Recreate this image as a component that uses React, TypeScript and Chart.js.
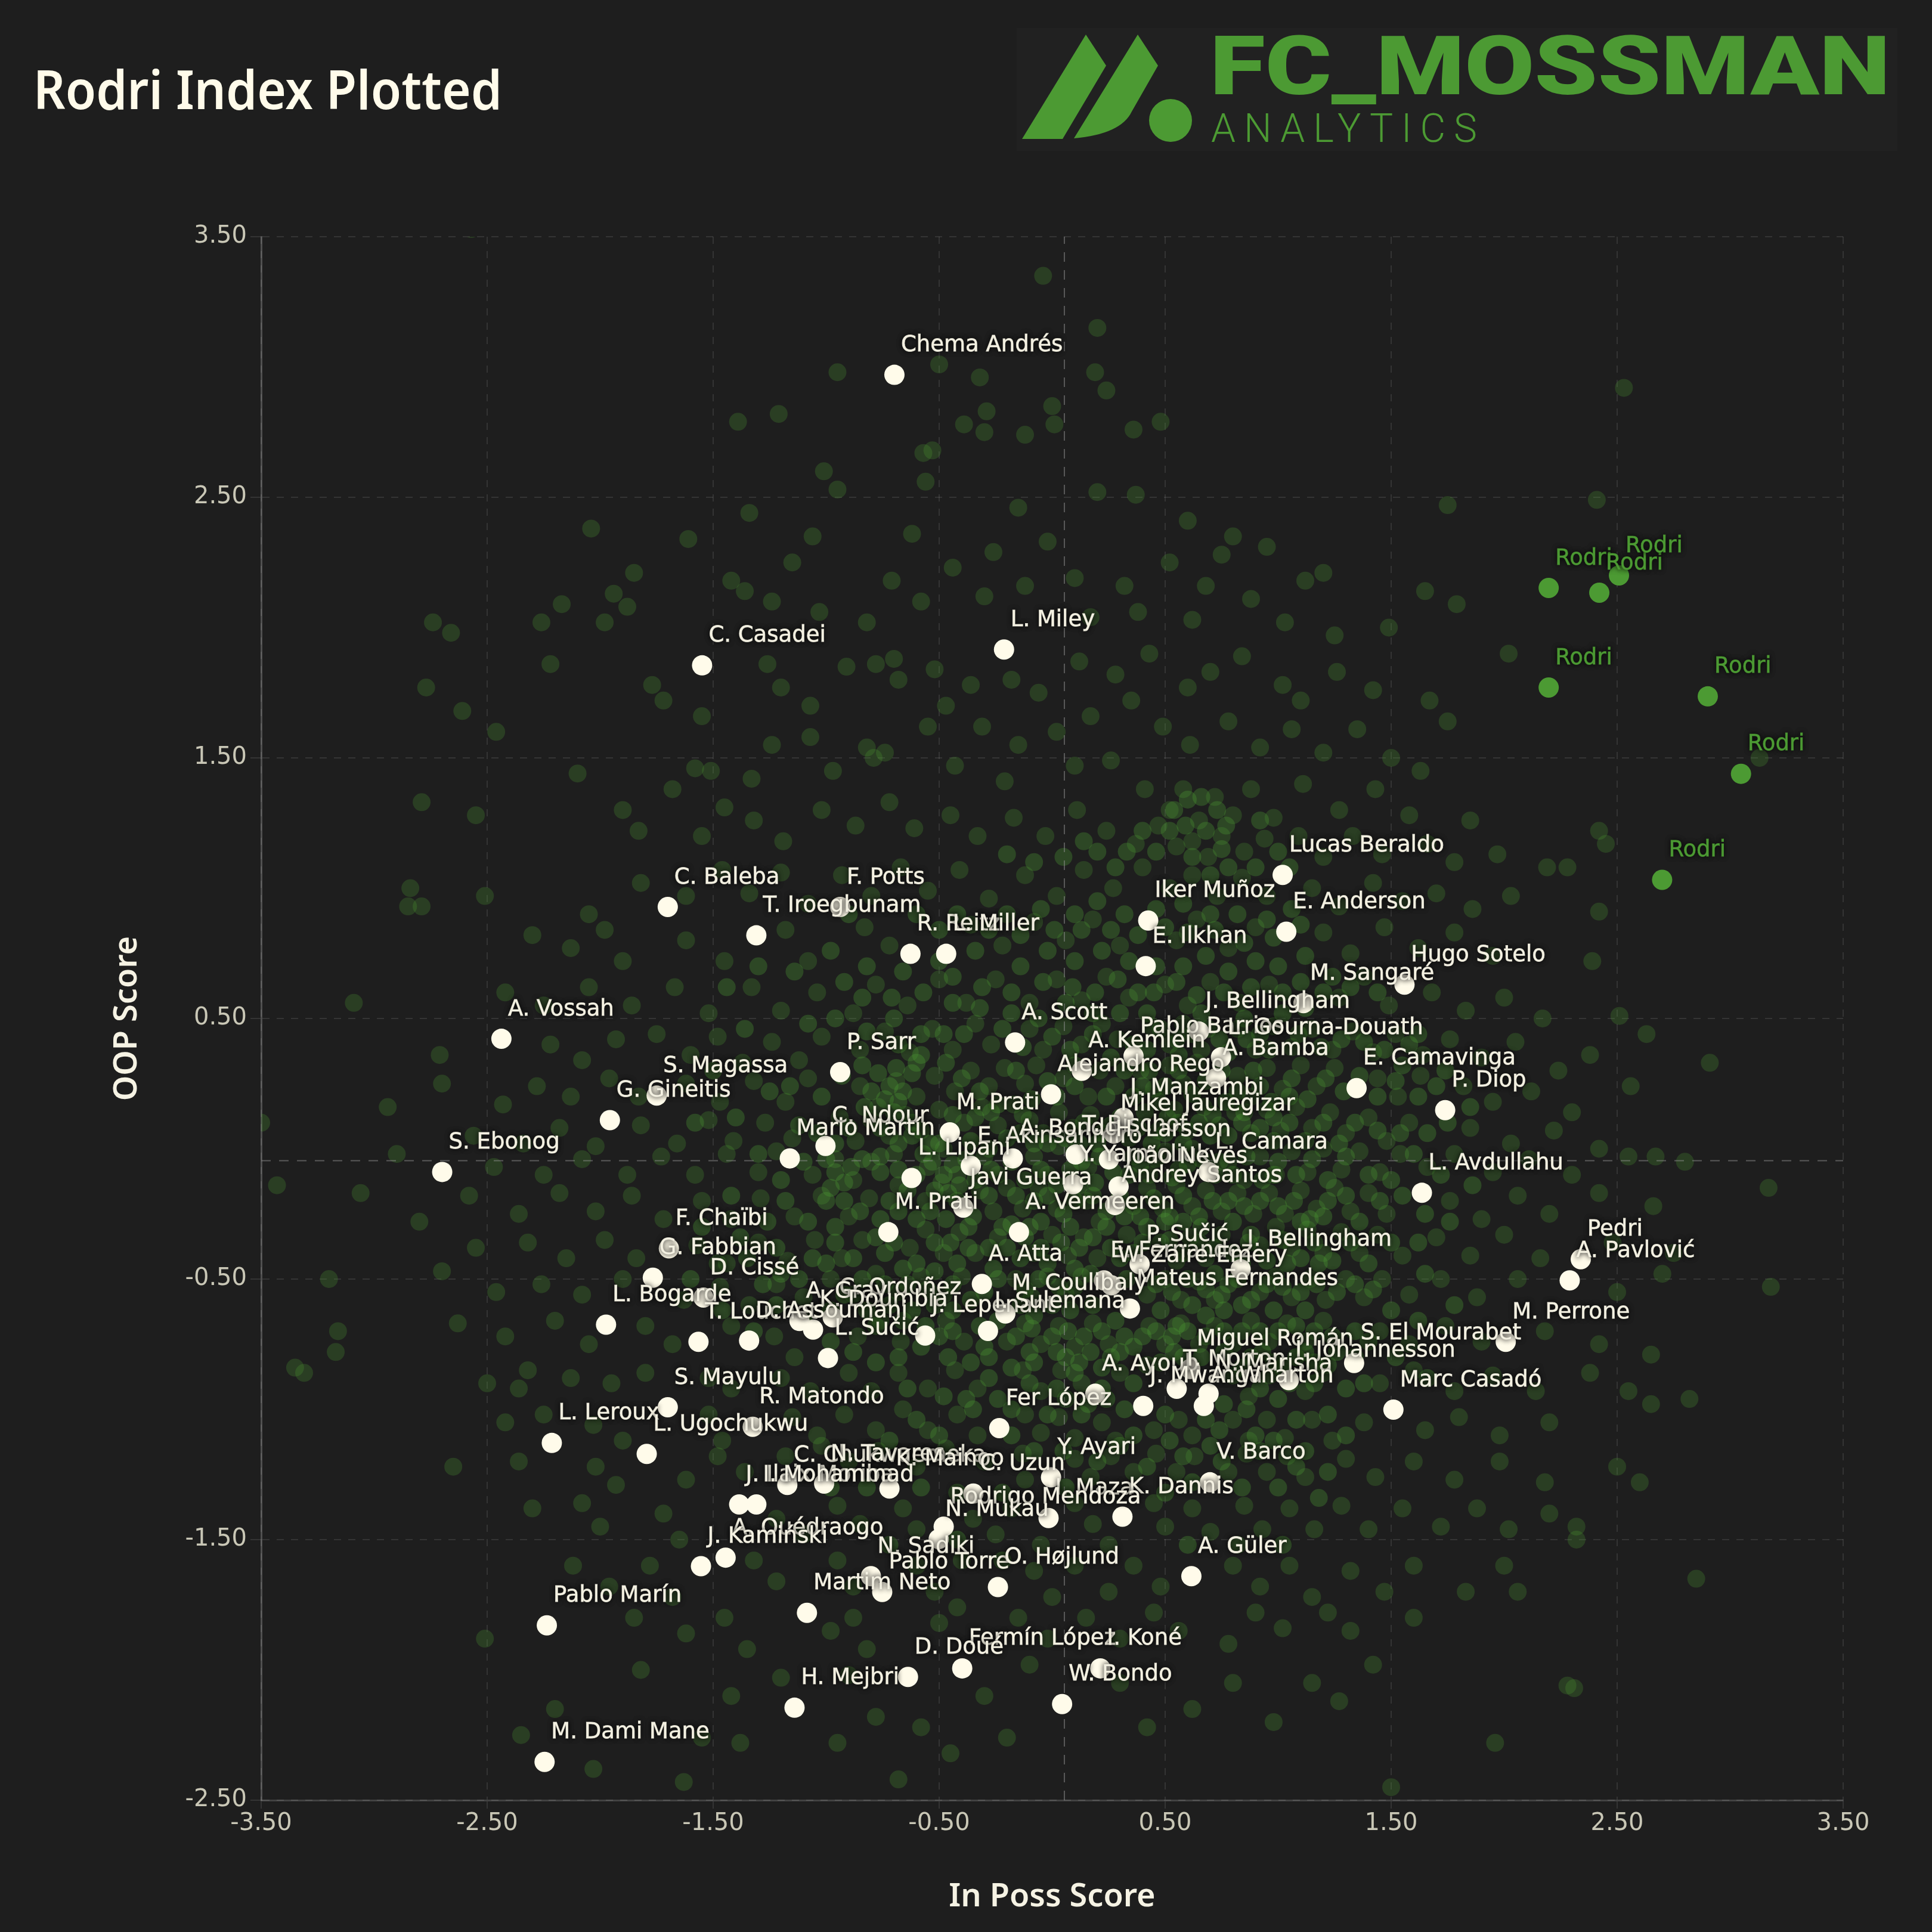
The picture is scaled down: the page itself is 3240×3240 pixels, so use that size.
import React, { useEffect, useRef } from "react";
import { Chart, registerables } from "chart.js";

Chart.register(...registerables);

const playerNames = ["Chema Andrés","C. Casadei","L. Miley","Lucas Beraldo","C. Baleba","F. Potts","T. Iroegbunam","R. Reitz","L. Miller","Iker Muñoz","E. Anderson","E. Ilkhan","Hugo Sotelo","M. Sangaré","A. Vossah","J. Bellingham","A. Scott","Pablo Barrios","L. Gourna-Douath","A. Bamba","A. Kemlein","P. Sarr","S. Magassa","G. Gineitis","E. Camavinga","P. Diop","Alejandro Rego","J. Manzambi","Mikel Jauregizar","M. Prati","C. Ndour","Mario Martín","E. Akinsanmiro","L. Lipani","A. Bondo","T. Bischof","H. Larsson","L. Camara","Y. Yarmoliuk","João Neves","Javi Guerra","Andrey Santos","A. Vermeeren","M. Prati","L. Avdullahu","S. Ebonog","F. Chaïbi","G. Fabbian","P. Sučić","J. Bellingham","E. Fernandez","W. Zaïre-Emery","Pedri","A. Pavlović","A. Atta","Mateus Fernandes","M. Coulibaly","C. Ordoñez","A. Gray","K. Doumbia","L. Bogarde","D. Cissé","T. Louchet","D. Assoumani","L. Sučić","J. Lepenant","I. Sulemana","M. Perrone","S. El Mourabet","Miguel Román","A. Ayoub","T. Morton","Í. Jóhannesson","N. Marisha","J. Mwanga","A. Wharton","Marc Casadó","S. Mayulu","R. Matondo","L. Leroux","L. Ugochukwu","Fer López","Y. Ayari","V. Barco","C. Chukwuemeka","N. Tavares","K. Mainoo","C. Uzun","J. Ilaix Moriba","I. Mohammad","I. Maza","K. Dannis","Rodrigo Mendoza","N. Mukau","A. Ouédraogo","J. Kamiński","N. Sadiki","Pablo Torre","O. Højlund","A. Güler","Pablo Marín","Martim Neto","Fermín López","I. Koné","D. Doué","W. Bondo","H. Mejbri","M. Dami Mane"];
const playerX = [-0.698,-1.549,-0.213,1.02,-1.701,-0.938,-1.309,-0.627,-0.469,0.425,1.036,0.414,1.559,1.112,-2.437,0.649,-0.164,0.36,0.747,0.725,0.131,-0.938,-1.75,-1.957,1.347,1.739,-0.005,0.316,0.273,-0.453,-1.003,-1.161,-0.36,-0.622,-0.174,0.104,0.251,0.692,0.093,0.294,-0.393,0.278,-0.147,-0.725,1.636,-2.699,-1.696,-1.767,0.387,0.834,0.229,0.262,2.339,2.29,-0.311,0.344,-0.207,-0.971,-1.118,-1.058,-1.974,-1.543,-1.565,-1.341,-0.992,-0.562,-0.284,2.007,1.336,0.611,0.191,0.551,1.047,0.692,0.403,0.671,1.51,-1.701,-1.325,-2.214,-1.794,-0.234,-0.005,0.698,-1.172,-1.009,-0.72,-0.349,-1.385,-1.309,-0.016,0.311,-0.48,-0.502,-1.445,-1.554,-0.802,-0.752,-0.24,0.616,-2.236,-1.085,-0.398,0.213,-0.638,0.044,-1.14,-2.246];
const playerY = [2.97,1.855,1.916,1.051,0.928,0.928,0.819,0.748,0.748,0.876,0.833,0.701,0.63,0.559,0.422,0.45,0.408,0.356,0.351,0.271,0.299,0.294,0.204,0.11,0.233,0.148,0.209,0.119,0.058,0.063,0.011,-0.037,-0.065,-0.112,-0.037,-0.022,-0.041,-0.089,-0.136,-0.145,-0.226,-0.216,-0.32,-0.32,-0.169,-0.089,-0.382,-0.495,-0.443,-0.462,-0.505,-0.524,-0.424,-0.505,-0.519,-0.613,-0.632,-0.647,-0.661,-0.694,-0.675,-0.571,-0.741,-0.736,-0.803,-0.717,-0.699,-0.741,-0.822,-0.845,-0.94,-0.921,-0.888,-0.94,-0.987,-0.987,-1.001,-0.992,-1.067,-1.129,-1.171,-1.072,-1.261,-1.28,-1.29,-1.285,-1.304,-1.323,-1.365,-1.365,-1.417,-1.412,-1.45,-1.498,-1.569,-1.602,-1.64,-1.701,-1.682,-1.64,-1.829,-1.781,-1.994,-1.994,-2.027,-2.131,-2.145,-2.353];

const rodriName = "Rodri";
const rodriX = [2.197,2.421,2.508,2.197,2.901,3.048,2.699];
const rodriY = [2.152,2.134,2.2,1.77,1.736,1.439,1.032];

const medianX = 0.054;
const medianY = -0.046;
const tickValuesX = [-3.5,-2.5,-1.5,-0.5,0.5,1.5,2.5,3.5];
const tickValuesY = [-2.5,-1.5,-0.5,0.5,1.5,2.5,3.5];
const chartTitle = "Rodri Index Plotted";
const xTitle = "In Poss Score";
const yTitle = "OOP Score";

// Every other player in the pool.
const poolTop: number[][] = [
[-2.57,3.53],[-0.04,3.35],[0.2,3.15],[-0.95,2.98],[-0.5,3.01],[-0.32,2.96],[0.19,2.98],[0.24,2.91],[2.53,2.92],[-0.29,2.83],[-1.21,2.82],[-1.39,2.79],[0,2.85],[0.01,2.78],[-0.39,2.78],[-0.3,2.75],[-0.12,2.74],[0.36,2.76],[0.48,2.79],[-0.53,2.68],[-0.57,2.67],[-1.01,2.6],[-0.95,2.53],[-0.56,2.56],[2.41,2.49],[1.75,2.47],[-1.34,2.44],[-2.04,2.38],[-1.61,2.34],[-1.06,2.35],[0.37,2.51],[0.2,2.52],[-0.15,2.46],[-0.62,2.36],[0.8,2.35],[0.6,2.41],[0.95,2.31],[1.2,2.21],[1.12,2.18],[0.75,2.28],[0.52,2.25],[-0.02,2.33],[-0.26,2.29],[-0.44,2.23],[-0.71,2.18],[-1.15,2.25],[-1.85,2.21],[-1.94,2.13],[-1.88,2.08],[-2.17,2.09],[-2.26,2.02],[-1.98,2.02],[-1.42,2.18],[-1.36,2.14],[-1.24,2.1],[-1.03,2.06],[-0.82,2.02],[-0.58,2.1],[-0.3,2.12],[-0.12,2.16],[0.1,2.19],[0.32,2.16],[0.68,2.16],[0.88,2.11],[1.03,2.02],[1.65,2.14],[1.79,2.09],[1.49,2],[1.25,1.97],[0.62,2.03],[0.38,2.06],[0.17,2.04],
[-2.74,2.02],[-2.66,1.98],[-2.77,1.77],[-2.61,1.68],[-2.46,1.6],[-2.22,1.86],[-1.77,1.78],[-1.72,1.72],[-1.55,1.66],[-1.58,1.46],[-1.51,1.45],[-1.26,1.86],[-1.2,1.77],[-1.07,1.7],[-0.91,1.85],[-0.78,1.86],[-0.68,1.8],[-0.7,1.88],[-0.52,1.84],[-0.47,1.7],[-0.36,1.78],[-0.18,1.8],[-0.06,1.75],[0.12,1.87],[0.28,1.82],[0.43,1.9],[0.6,1.77],[0.7,1.83],[0.84,1.89],[1.02,1.78],[1.1,1.72],[1.26,1.83],[1.42,1.76],[1.67,1.72],[1.75,1.64],[2.02,1.9],[1.85,1.26],[-0.82,1.54],[-0.79,1.5],[-0.74,1.52],[-0.97,1.45],[-1.07,1.58],[-1.24,1.55],[-2.1,1.44],[-2.55,1.28],[-2.79,1.33],[-1.9,1.3],[-1.68,1.38],[-1.45,1.31],[-1.33,1.42],[-0.55,1.62],[-0.31,1.62],[-0.15,1.55],[0.02,1.6],[0.17,1.66],[0.35,1.72],[0.49,1.62],[0.61,1.55],[0.78,1.64],[0.92,1.54],[1.06,1.61],[1.2,1.52],[1.35,1.61],[1.5,1.5],[1.63,1.45],[-0.43,1.47],[-0.21,1.41],[0.1,1.47],[0.26,1.49],[0.41,1.38],[0.52,1.3],[0.58,1.38],[0.65,1.26],[0.72,1.35],[0.8,1.28],[0.88,1.38],[0.98,1.27],[1.11,1.4],[1.27,1.3],[1.43,1.38],[1.58,1.28],[2.45,1.17],[2.42,1.22],[2.28,1.08],[2.19,1.08],[3.13,1.5],
[-1.83,1.22],[-1.55,1.2],[-1.32,1.26],[-1.19,1.18],[-1.02,1.3],[-0.87,1.24],[-0.72,1.33],[-0.61,1.23],[-0.45,1.28],[-0.33,1.2],[-0.17,1.27],[-0.03,1.2],[0.11,1.3],[0.24,1.22],[0.37,1.17],[0.47,1.24],[0.55,1.16],[0.62,1.18],[0.69,1.12],[0.75,1.2],[0.85,1.14],[0.94,1.19],[1.09,1.2],[1.2,1.12],[1.33,1.2],[1.46,1.13],[1.66,1.17],[1.78,1.1],[1.97,1.13],
[-2.84,1],[-2.85,0.93],[-2.79,0.93],[-2.51,0.97],[-2.05,0.9],[-1.98,0.84],[-1.82,1.02],[-1.62,0.97],[-1.46,1.07],[-1.34,0.98],[-1.2,1.06],[-1.08,0.94],[-0.93,1.05],[-0.8,0.97],[-0.67,1.08],[-0.55,0.99],[-0.41,1.07],[-0.28,0.96],[-0.12,1.05],[0.02,0.97],[0.14,1.07],[0.27,1],[0.4,1.08],[0.52,1],[0.62,1.05],[0.73,0.97],[0.84,1.04],[0.95,0.97],[1.15,1],[1.27,0.93],[1.42,1.02],[1.55,0.95],[1.7,0.98],[1.86,0.92],[2.03,0.97],[2.42,0.91],[-2.3,0.82],[-2.13,0.77],[-1.9,0.72],[-1.62,0.8],[-1.45,0.72],[-1.18,0.84],[-1.08,0.72],[-0.83,0.85],[-0.72,0.78],[-0.36,0.86],[-0.22,0.78],[-0.08,0.87],[0.06,0.8],[0.18,0.88],[0.3,0.78],[0.55,0.8],[0.64,0.88],[0.78,0.77],[0.9,0.85],[1.2,0.83],[1.32,0.75],[1.47,0.85],[1.62,0.77],[1.78,0.83],[1.95,0.74],[2.39,0.72],
[-3.09,0.56],[-2.71,0.36],[-2.7,0.25],[-2.94,0.16],[-2.42,0.6],[-2.25,0.55],[-2.05,0.62],[-1.86,0.55],[-1.67,0.62],[-1.52,0.52],[-1.33,0.62],[-1.2,0.53],[-1.04,0.6],[-0.88,0.52],[-0.78,0.63],[-0.64,0.55],[-0.5,0.65],[-0.38,0.56],[-0.25,0.65],[-0.1,0.56],[0.02,0.65],[0.13,0.57],[0.24,0.66],[0.34,0.58],[0.5,0.63],[0.6,0.55],[0.7,0.64],[0.83,0.56],[0.96,0.63],[1.27,0.58],[1.38,0.66],[1.49,0.55],[1.68,0.6],[1.83,0.53],[2,0.58],[2.17,0.5],[2.51,0.51],[2.63,0.44],[2.91,0.33],
];

const poolUpperMid: number[][] = [
[-2.22,0.4],[-2.08,0.34],[-2.28,0.24],[-1.93,0.42],[-1.75,0.44],[-1.6,0.36],[-1.48,0.43],[-1.37,0.33],[-1.24,0.41],[-1.12,0.34],[-1.02,0.43],[-0.85,0.38],[-0.74,0.45],[-0.63,0.37],[-0.53,0.46],[-0.44,0.38],[-0.34,0.48],[-0.27,0.4],[-0.1,0.46],[-0.04,0.38],[0.05,0.47],[0.13,0.4],[0.22,0.48],[0.29,0.42],[0.44,0.47],[0.52,0.4],[0.58,0.48],[0.66,0.38],[0.82,0.46],[0.9,0.38],[0.98,0.47],[1.06,0.39],[1.15,0.46],[1.24,0.38],[1.33,0.45],[1.42,0.37],[1.52,0.44],[1.64,0.36],[1.76,0.42],[1.9,0.35],[2.05,0.41],[2.24,0.3],[2.38,0.36],[2.56,0.24],
[-2.43,0.17],[-2.13,0.2],[-1.96,0.27],[-1.83,0.2],[-1.62,0.25],[-1.47,0.18],[-1.32,0.26],[-1.18,0.18],[-1.08,0.27],[-0.85,0.24],[-0.77,0.16],[-0.69,0.26],[-0.6,0.2],[-0.52,0.28],[-0.43,0.22],[-0.36,0.3],[-0.28,0.24],[-0.21,0.31],[-0.12,0.25],[-0.07,0.32],[0.05,0.27],[0.16,0.2],[0.21,0.3],[0.28,0.24],[0.39,0.3],[0.45,0.23],[0.52,0.32],[0.58,0.25],[0.64,0.33],[0.82,0.28],[0.88,0.2],[0.95,0.31],[1.02,0.23],[1.1,0.32],[1.17,0.24],[1.25,0.31],[1.44,0.27],[1.53,0.2],[1.63,0.28],[1.82,0.24],[1.95,0.18],[2.12,0.22],[2.3,0.14],
[-2.56,0.05],[-2.34,0.02],[-2.18,0.08],[-2.02,0.01],[-1.82,0.09],[-1.66,0.02],[-1.52,0.11],[-1.41,0.03],[-1.27,0.1],[-1.15,0.04],[-0.94,0.12],[-0.87,0.03],[-0.8,0.11],[-0.72,0.05],[-0.65,0.13],[-0.58,0.07],[-0.5,0.15],[-0.39,0.1],[-0.31,0.16],[-0.24,0.09],[-0.17,0.17],[-0.1,0.11],[-0.04,0.06],[0.03,0.14],[0.09,0.08],[0.17,0.13],[0.34,0.04],[0.41,0.14],[0.47,0.07],[0.54,0.15],[0.6,0.07],[0.67,0.16],[0.74,0.09],[0.81,0.14],[0.88,0.06],[0.95,0.15],[1.01,0.07],[1.08,0.16],[1.15,0.08],[1.23,0.14],[1.3,0.06],[1.4,0.12],[1.48,0.03],[1.58,0.1],[1.85,0.08],[2.03,0.02],[2.22,0.07],[2.42,0],
[-3.5,0.1],[-2.9,-0.02],[-2.47,-0.07],[-2.25,-0.1],[-2.08,-0.04],[-1.88,-0.1],[-1.73,-0.03],[-1.58,-0.1],[-1.44,-0.02],[-1.3,-0.09],[-1.22,-0.01],[-1.06,-0.1],[-0.96,-0.04],[-0.88,-0.12],[-0.8,-0.05],[-0.7,-0.02],[-0.55,-0.07],[-0.48,0],[-0.42,-0.1],[-0.3,-0.03],[-0.24,-0.1],[-0.08,-0.03],[-0.02,-0.1],[0.03,0.01],[0.16,-0.07],[0.36,-0.03],[0.43,-0.1],[0.5,-0.01],[0.56,-0.08],[0.62,0],[0.78,-0.05],[0.85,-0.12],[0.92,-0.03],[0.99,-0.1],[1.06,-0.01],[1.13,-0.09],[1.2,0],[1.28,-0.08],[1.36,-0.01],[1.45,-0.09],[1.54,-0.02],[1.66,-0.07],[1.78,-0.02],[1.95,-0.09],[2.11,-0.04],[2.3,-0.1],[2.55,-0.03],[2.67,-0.03],[2.8,-0.05],
[-3.43,-0.14],[-3.06,-0.17],[-2.8,-0.28],[-2.58,-0.18],[-2.36,-0.25],[-2.18,-0.17],[-2.02,-0.24],[-1.86,-0.18],[-1.72,-0.27],[-1.55,-0.2],[-1.42,-0.27],[-1.29,-0.19],[-1.14,-0.26],[-1.02,-0.18],[-0.9,-0.26],[-0.81,-0.19],[-0.68,-0.14],[-0.56,-0.2],[-0.49,-0.13],[-0.32,-0.16],[-0.26,-0.24],[-0.2,-0.15],[-0.13,-0.23],[-0.06,-0.15],[0.02,-0.23],[0.15,-0.2],[0.21,-0.28],[0.36,-0.22],[0.42,-0.15],[0.49,-0.23],[0.55,-0.14],[0.62,-0.22],[0.68,-0.16],[0.75,-0.24],[0.82,-0.17],[0.89,-0.25],[0.96,-0.17],[1.03,-0.25],[1.1,-0.16],[1.17,-0.23],[1.25,-0.15],[1.32,-0.24],[1.4,-0.17],[1.48,-0.25],[1.76,-0.2],[1.9,-0.27],[2.06,-0.18],[2.2,-0.25],[2.42,-0.17],[2.66,-0.22],[3.17,-0.15],
[-2.55,-0.38],[-2.32,-0.36],[-2.15,-0.42],[-1.98,-0.35],[-1.84,-0.42],[-1.57,-0.37],[-1.44,-0.44],[-1.3,-0.36],[-1.17,-0.43],[-1.05,-0.35],[-0.93,-0.42],[-0.84,-0.35],[-0.63,-0.38],[-0.56,-0.31],[-0.48,-0.4],[-0.41,-0.32],[-0.34,-0.4],[-0.24,-0.34],[-0.08,-0.4],[0,-0.33],[0.07,-0.41],[0.14,-0.34],[0.2,-0.42],[0.33,-0.33],[0.48,-0.36],[0.55,-0.43],[0.61,-0.34],[0.68,-0.42],[0.75,-0.33],[0.92,-0.37],[0.99,-0.3],[1.06,-0.38],[1.13,-0.31],[1.2,-0.4],[1.28,-0.32],[1.36,-0.4],[1.44,-0.33],[1.55,-0.41],[1.7,-0.34],[1.85,-0.41],[2,-0.33],[2.16,-0.42],[2.48,-0.36],[2.75,-0.4],
];

const poolLowerMid: number[][] = [
[-3.2,-0.5],[-2.7,-0.47],[-2.46,-0.55],[-2.26,-0.52],[-2.08,-0.56],[-1.9,-0.5],[-1.63,-0.58],[-1.47,-0.53],[-1.34,-0.6],[-1.22,-0.52],[-1.1,-0.57],[-0.98,-0.5],[-0.88,-0.56],[-0.78,-0.48],[-0.68,-0.55],[-0.58,-0.49],[-0.48,-0.56],[-0.4,-0.49],[-0.16,-0.5],[-0.09,-0.57],[-0.02,-0.49],[0.06,-0.56],[0.13,-0.49],[0.42,-0.56],[0.5,-0.5],[0.57,-0.58],[0.65,-0.51],[0.72,-0.58],[0.92,-0.55],[0.99,-0.49],[1.06,-0.57],[1.14,-0.5],[1.21,-0.58],[1.3,-0.5],[1.38,-0.57],[1.46,-0.5],[1.58,-0.56],[1.72,-0.5],[1.88,-0.57],[2.06,-0.5],[2.5,-0.55],[2.7,-0.48],[3.18,-0.53],
[-3.16,-0.7],[-3.17,-0.78],[-2.63,-0.67],[-2.42,-0.72],[-2.2,-0.66],[-2.05,-0.75],[-1.8,-0.68],[-1.68,-0.75],[-1.42,-0.68],[-1.23,-0.72],[-1.14,-0.8],[-0.86,-0.72],[-0.76,-0.66],[-0.67,-0.74],[-0.47,-0.66],[-0.39,-0.74],[-0.2,-0.74],[-0.12,-0.67],[-0.05,-0.75],[0.03,-0.68],[0.1,-0.76],[0.18,-0.67],[0.25,-0.75],[0.43,-0.68],[0.5,-0.75],[0.57,-0.67],[0.65,-0.75],[0.72,-0.68],[0.8,-0.75],[0.88,-0.66],[0.96,-0.74],[1.04,-0.67],[1.12,-0.74],[1.2,-0.66],[1.45,-0.7],[1.58,-0.75],[1.74,-0.68],[1.9,-0.74],[2.18,-0.7],[2.42,-0.75],[2.65,-0.79],
[-3.35,-0.84],[-3.31,-0.86],[-2.5,-0.9],[-2.36,-0.92],[-2.32,-0.85],[-2.13,-0.88],[-1.95,-0.9],[-1.8,-0.86],[-1.52,-0.88],[-1.42,-0.92],[-1.2,-0.88],[-1.07,-0.93],[-0.9,-0.86],[-0.8,-0.93],[-0.68,-0.86],[-0.55,-0.92],[-0.43,-0.85],[-0.33,-0.92],[-0.13,-0.85],[-0.05,-0.93],[0.04,-0.85],[0.13,-0.9],[0.3,-0.86],[0.42,-0.83],[0.8,-0.87],[0.87,-0.95],[0.96,-0.87],[1.12,-0.93],[1.2,-0.86],[1.45,-0.9],[1.6,-0.85],[1.78,-0.93],[1.95,-0.87],[2.14,-0.93],[2.38,-0.86],[2.55,-0.93],
[-2.42,-1.05],[-2.25,-1.02],[-2.03,-1.06],[-1.9,-1.12],[-1.52,-1.02],[-1.46,-1.12],[-1.15,-1.03],[-1.04,-1.1],[-0.92,-1.02],[-0.78,-1.08],[-0.66,-1],[-0.55,-1.08],[-0.42,-1.02],[-0.33,-1.1],[-0.12,-1.02],[-0.05,-1.09],[0.03,-1.03],[0.1,-1.11],[0.22,-1.05],[0.28,-1.12],[0.45,-1.08],[0.56,-1.04],[0.62,-1.1],[0.8,-1.04],[0.87,-1.12],[0.95,-1.04],[1.03,-1.11],[1.15,-1.04],[1.24,-1.12],[1.38,-1.05],[1.65,-1.08],[1.8,-1.03],[1.98,-1.1],[2.2,-1.05],[2.65,-0.98],[2.82,-0.96],
[-2.65,-1.22],[-2.36,-1.2],[-2.02,-1.22],[-1.93,-1.29],[-1.62,-1.27],[-1.48,-1.18],[-1.36,-1.24],[-1.18,-1.18],[-1.02,-1.14],[-0.9,-1.2],[-0.77,-1.16],[-0.6,-1.22],[-0.47,-1.15],[-0.3,-1.2],[-0.13,-1.17],[-0.12,-1.27],[0.1,-1.19],[0.17,-1.26],[0.26,-1.18],[0.36,-1.24],[0.46,-1.17],[0.55,-1.24],[0.63,-1.18],[0.78,-1.24],[0.86,-1.17],[0.95,-1.24],[1.04,-1.18],[1.12,-1.26],[1.3,-1.19],[1.43,-1.26],[1.6,-1.2],[1.78,-1.27],[1.98,-1.2],[2.18,-1.28],[2.5,-1.22],[2.6,-1.28],
[-2.3,-1.38],[-2.08,-1.36],[-2.0,-1.45],[-1.72,-1.4],[-1.65,-1.5],[-1.22,-1.42],[-1.1,-1.48],[-0.95,-1.37],[-0.85,-1.44],[-0.66,-1.38],[-0.6,-1.46],[-0.35,-1.42],[-0.25,-1.48],[-0.18,-1.38],[-0.05,-1.52],[0.1,-1.36],[0.18,-1.44],[0.25,-1.52],[0.45,-1.36],[0.5,-1.45],[0.62,-1.38],[0.7,-1.47],[0.85,-1.37],[0.93,-1.46],[1.05,-1.38],[1.16,-1.46],[1.28,-1.37],[1.4,-1.46],[1.55,-1.38],[1.72,-1.45],[1.88,-1.38],[2.02,-1.46],[2.2,-1.4],[2.32,-1.5],[2.32,-1.45],
[-2.12,-1.6],[-1.96,-1.68],[-1.78,-1.6],[-1.68,-1.72],[-1.32,-1.58],[-1.22,-1.66],[-0.95,-1.58],[-0.88,-1.68],[-0.6,-1.6],[-0.52,-1.7],[-0.4,-1.58],[-0.08,-1.62],[0,-1.72],[0.1,-1.6],[0.25,-1.7],[0.36,-1.6],[0.48,-1.68],[0.8,-1.6],[0.92,-1.68],[1.05,-1.6],[1.15,-1.72],[1.32,-1.62],[1.47,-1.7],[1.6,-1.6],[1.83,-1.7],[2.06,-1.7],[2.85,-1.65],[2.0,-1.6],
[-2.51,-1.88],[-1.85,-1.8],[-1.62,-1.86],[-1.45,-1.8],[-1.35,-1.92],[-0.98,-1.85],[-0.88,-1.8],[-0.82,-1.92],[-0.5,-1.82],[-0.42,-1.76],[-0.15,-1.8],[-0.02,-1.88],[0.15,-1.8],[0.3,-1.88],[0.45,-1.78],[0.56,-1.85],[0.78,-1.9],[0.9,-1.78],[1.02,-1.84],[1.22,-1.78],[1.32,-1.85],[1.6,-1.8],
[-2.35,-2.25],[-2.03,-2.38],[-1.63,-2.43],[-1.55,-2.26],[-1.42,-2.1],[-1.38,-2.28],[-1.2,-2.03],[-0.9,-2.02],[-0.95,-2.28],[-0.78,-2.18],[-0.58,-2.22],[-0.45,-2.32],[-0.3,-2.1],[-0.2,-2.26],[-0.1,-1.98],[0.3,-2.05],[0.42,-2.22],[0.62,-2.15],[0.8,-2.05],[0.98,-2.2],[1.15,-2.05],[1.27,-2.12],[1.5,-2.45],[1.96,-2.28],[2.28,-2.06],[2.31,-2.07],[-2.2,-2.15],[-1.82,-2.0],[-0.68,-2.42],[1.42,-1.98],
];

const poolDense: number[][] = [
[0.4,0.24],[0.47,0.18],[0.56,0.1],[0.62,0.21],[0.7,0.05],[0.77,0.18],[0.84,0.1],[0.92,0.24],[0.98,0.12],[1.05,0.2],[0.5,0.06],[0.3,0.12],[0.22,0.06],[0.12,0.02],[-0.02,0.02],[-0.14,0.06],[-0.28,0],[-0.34,0.12],[-0.46,0.06],[-0.62,0.1],[-0.68,0.18],[-0.57,-0.02],[-0.76,-0.09],[-0.64,-0.16],[-0.72,-0.2],[-0.6,-0.27],[-0.47,-0.27],[-0.37,-0.3],[-0.18,-0.29],[-0.05,-0.28],[0.08,-0.3],[0.12,-0.14],[0.19,-0.13],[0.34,-0.1],[0.58,-0.28],[0.66,-0.3],[0.74,-0.05],[0.8,-0.28],[0.88,-0.33],[0.98,-0.1],[1.1,-0.28],[1.2,-0.26],[0.26,-0.38],[0.36,-0.4],[0.42,-0.3],[0.5,-0.28],[0.72,-0.48],[0.78,-0.52],[0.84,-0.44],[0.88,-0.58],[0.98,-0.62],[1.04,-0.44],[1.12,-0.62],[1.18,-0.44],[0.48,-0.62],[0.55,-0.68],[0.62,-0.6],[0.68,-0.64],[0.76,-0.62],[0.84,-0.6],[0.4,-0.72],[0.28,-0.66],[0.18,-0.6],[0.08,-0.62],[0,-0.6],[-0.08,-0.64],[-0.14,-0.6],[-0.36,-0.58],[-0.44,-0.62],[-0.52,-0.6],[-0.62,-0.62],[-0.72,-0.6],[-0.82,-0.62],[-0.92,-0.56],[-0.88,-0.42],[-0.74,-0.4],[-0.66,-0.46],[-0.52,-0.47],[-0.42,-0.44],[-0.26,-0.46],[-0.14,-0.42],[-0.02,-0.44],[0.1,-0.46],[0.02,-0.14],[-0.08,-0.2],[0.24,-0.3],[0.32,-0.26],
[0.42,0.38],[0.55,0.42],[0.62,0.44],[0.74,0.42],[0.85,0.5],[0.92,0.44],[1.02,0.52],[1.12,0.54],[0.66,0.52],[0.42,0.52],[0.3,0.52],[0.18,0.52],[0.06,0.56],[-0.06,0.5],[-0.18,0.52],[-0.32,0.54],[-0.44,0.56],[-0.58,0.44],[-0.7,0.5],[0.46,0.7],[0.34,0.72],[0.22,0.76],[0.1,0.72],[-0.02,0.76],[-0.14,0.7],[0.58,0.7],[0.68,0.74],[0.78,0.68],[0.9,0.72],[1.0,0.7],[1.12,0.74],[1.24,0.66],[0.2,0.95],[0.32,0.9],[0.46,0.92],[0.58,0.94],[0.7,0.9],[0.82,0.9],[0.95,0.88],[1.06,0.92],[0.1,0.9],[-0.05,0.92],[-0.2,0.9],[-0.34,0.76],[-0.5,0.72],[-0.66,0.68],[-0.82,0.7],[-0.98,0.76],[-1.14,0.68],[-1.3,0.7],[-1.44,0.62],[-0.9,0.9],[-0.6,0.9],
[-1.35,-0.42],[-1.22,-0.38],[-1.12,-0.5],[-1.0,-0.44],[-0.98,-0.62],[-1.1,-0.66],[-1.22,-0.6],[-1.32,-0.7],[-1.46,-0.62],[-0.88,-0.78],[-0.78,-0.82],[-0.68,-0.8],[-0.58,-0.76],[-0.46,-0.8],[-0.36,-0.82],[-0.28,-0.8],[-0.18,-0.84],[-0.08,-0.82],[0.02,-0.78],[0.12,-0.82],[0.22,-0.84],[0.3,-0.78],[0.48,-0.82],[0.58,-0.8],[0.88,-0.8],[0.98,-0.82],[1.08,-0.8],[1.16,-0.82],[1.26,-0.78],[-0.72,-1.12],[-0.6,-1.04],[-0.5,-1.1],[-0.24,-0.96],[-0.18,-1.1],[-0.08,-1.16],[0.06,-0.96],[0.16,-0.98],[0.24,-0.96],[0.32,-1.0],[0.76,-0.98],[0.86,-1.0],[1.0,-0.96],[1.12,-1.16],[1.22,-1.02],[0.42,-1.22],[0.52,-1.12],[0.7,-1.14],[0.92,-1.16],[1.0,-1.3],[0.06,-1.3],[-0.22,-1.32],[-0.42,-1.32],[-0.58,-1.3],[-0.82,-1.3],[-0.98,-1.3],[0.5,-1.32],[0.62,-1.28],[0.84,-1.3],[1.18,-1.34],[-0.72,-1.52],[-0.42,-1.5],[-0.22,-1.58],[0.6,-1.52],[0.82,-1.52],[1.02,-1.52],
];

// The crowded core, where the dots overlap into a solid patch.
const poolCore: number[][] = [
[-0.72,0.24],[-0.77,0.29],[-0.69,0.31],[-0.74,0.19],[-0.66,0.22],[-0.62,0.29],[-0.8,0.22],[-0.7,0.14],[-0.96,-0.09],[-0.92,-0.13],[-1.0,-0.04],[-0.98,-0.15],[-0.89,-0.07],[-0.48,-0.1],[-0.52,-0.16],[-0.44,-0.06],[-0.46,-0.17],[-0.41,-0.14],[-0.53,-0.05],
[0.54,1.3],[0.6,1.34],[0.66,1.35],[0.73,1.3],[0.77,1.24],[0.59,1.24],[0.52,1.22],[0.75,1.15],[0.68,1.22],[0.62,1.12],[0.7,1.05],[0.78,1.08],[0.9,1.08],[0.46,1.14],[0.4,1.22],[0.33,1.14],[0.28,1.08],[0.2,1.14],[0.92,1.26],[1.0,1.14],[1.05,1.08],[0.14,1.18],[0.05,1.12],[-0.08,1.1],[-0.2,1.13],
[-0.5,0.84],[-0.42,0.9],[-0.28,0.84],[-0.14,0.82],[0.01,0.84],[0.13,0.84],[0.26,0.84],[0.38,0.82],[0.5,0.85],[0.6,0.83],[0.72,0.84],[0.85,0.79],[0.98,0.81],[1.1,0.86],
[-0.92,0.64],[-0.84,0.58],[-0.71,0.58],[-0.57,0.6],[-0.44,0.66],[-0.31,0.62],[-0.18,0.6],[-0.04,0.64],[0.09,0.62],[0.19,0.6],[0.29,0.65],[0.38,0.6],[0.45,0.6],[0.55,0.64],[0.64,0.59],[0.76,0.6],[0.88,0.62],[1.02,0.6],[1.1,0.64],[1.2,0.6],[1.32,0.62],[1.44,0.6],
[-1.08,0.48],[-0.96,0.5],[-0.82,0.45],[-0.68,0.4],[-0.58,0.36],[-0.48,0.44],[-0.39,0.44],[-0.22,0.46],[-0.13,0.39],[0,0.43],[0.08,0.38],[0.18,0.44],[0.26,0.35],[0.36,0.4],[0.48,0.46],[0.56,0.36],[0.69,0.46],[0.78,0.37],[0.86,0.42],[0.96,0.38],[1.09,0.44],[1.19,0.39],[1.28,0.42],[1.38,0.41],[1.47,0.38],[1.58,0.4],
[-1.16,0.24],[-1.02,0.2],[-0.93,0.28],[-0.84,0.32],[-0.6,0.33],[-0.47,0.33],[-0.4,0.27],[-0.32,0.22],[-0.24,0.17],[-0.16,0.3],[-0.09,0.19],[-0.02,0.26],[0.02,0.2],[0.1,0.24],[0.1,0.32],[0.24,0.2],[0.32,0.3],[0.36,0.2],[0.43,0.3],[0.5,0.24],[0.56,0.3],[0.68,0.26],[0.75,0.3],[0.82,0.22],[0.89,0.3],[0.97,0.18],[1.06,0.27],[1.13,0.19],[1.21,0.27],[1.29,0.22],[1.36,0.28],[1.44,0.2],[1.52,0.26],[1.62,0.2],[1.7,0.24],
[-1.12,0.09],[-1.04,0.06],[-0.96,0.02],[-0.9,0.08],[-0.83,0.16],[-0.76,0.08],[-0.68,0.02],[-0.62,0.05],[-0.54,0.02],[-0.44,0.13],[-0.36,0.03],[-0.27,0.14],[-0.2,0.04],[-0.13,0.13],[-0.08,0.02],[0.06,0.04],[0.14,0.1],[0.2,0.02],[0.26,0.09],[0.38,0.08],[0.44,0.02],[0.51,0.12],[0.58,0.02],[0.65,0.1],[0.71,0.13],[0.78,0.05],[0.85,0.14],[0.92,0.08],[0.98,0.03],[1.05,0.1],[1.12,0.03],[1.2,0.1],[1.27,0.02],[1.34,0.1],[1.44,0.07],[1.54,0.06],[1.66,0.06],[1.75,0.1],
[-1.2,-0.12],[-1.1,-0.05],[-1.0,-0.2],[-0.92,-0.2],[-0.84,-0.04],[-0.76,-0.03],[-0.68,-0.08],[-0.6,-0.1],[-0.5,0.02],[-0.38,-0.04],[-0.34,-0.12],[-0.27,-0.08],[-0.18,-0.05],[-0.12,-0.12],[-0.05,-0.08],[0.08,-0.08],[0.13,-0.05],[0.21,-0.03],[0.27,-0.09],[0.39,-0.06],[0.46,-0.04],[0.53,-0.11],[0.6,-0.06],[0.66,-0.04],[0.72,-0.1],[0.8,-0.1],[0.86,-0.03],[0.93,-0.12],[1.0,-0.05],[1.08,-0.1],[1.15,-0.04],[1.22,-0.12],[1.3,-0.03],[1.4,-0.1],[1.5,-0.12],[1.6,-0.02],[1.72,-0.1],
[-1.26,-0.28],[-1.18,-0.2],[-1.08,-0.28],[-0.96,-0.3],[-0.85,-0.24],[-0.76,-0.27],[-0.68,-0.24],[-0.54,-0.24],[-0.42,-0.2],[-0.35,-0.26],[-0.28,-0.18],[-0.22,-0.3],[-0.16,-0.18],[-0.1,-0.3],[-0.02,-0.18],[0.05,-0.25],[0.1,-0.2],[0.18,-0.18],[0.24,-0.24],[0.3,-0.18],[0.39,-0.26],[0.45,-0.19],[0.52,-0.26],[0.58,-0.18],[0.65,-0.26],[0.71,-0.2],[0.78,-0.2],[0.85,-0.22],[0.92,-0.2],[1.0,-0.22],[1.07,-0.2],[1.14,-0.27],[1.22,-0.2],[1.3,-0.18],[1.36,-0.28],[1.45,-0.2],[1.55,-0.18],[1.65,-0.25],
[-1.2,-0.48],[-1.06,-0.42],[-0.96,-0.36],[-0.78,-0.34],[-0.7,-0.36],[-0.6,-0.44],[-0.52,-0.36],[-0.45,-0.36],[-0.37,-0.38],[-0.28,-0.38],[-0.2,-0.38],[-0.12,-0.34],[-0.05,-0.38],[0.04,-0.36],[0.12,-0.38],[0.18,-0.34],[0.3,-0.42],[0.4,-0.36],[0.52,-0.35],[0.58,-0.4],[0.65,-0.36],[0.72,-0.38],[0.8,-0.4],[0.87,-0.36],[0.95,-0.43],[1.02,-0.35],[1.1,-0.42],[1.16,-0.36],[1.24,-0.43],[1.32,-0.36],[1.4,-0.44],[1.5,-0.36],[1.62,-0.36],
[-0.84,-0.5],[-0.74,-0.52],[-0.64,-0.52],[-0.55,-0.54],[-0.44,-0.52],[-0.3,-0.55],[-0.24,-0.5],[-0.12,-0.54],[-0.06,-0.5],[0.03,-0.53],[0.1,-0.53],[0.17,-0.48],[0.33,-0.5],[0.46,-0.52],[0.53,-0.55],[0.6,-0.5],[0.68,-0.54],[0.75,-0.56],[0.82,-0.5],[0.95,-0.52],[1.02,-0.53],[1.1,-0.55],[1.17,-0.52],[1.26,-0.55],[1.34,-0.52],[1.42,-0.54],
[-0.78,-0.68],[-0.66,-0.66],[-0.56,-0.68],[-0.44,-0.7],[-0.32,-0.68],[-0.24,-0.66],[-0.16,-0.72],[-0.09,-0.69],[0,-0.72],[0.07,-0.7],[0.14,-0.72],[0.22,-0.7],[0.32,-0.72],[0.46,-0.7],[0.53,-0.72],[0.6,-0.7],[0.68,-0.72],[0.76,-0.7],[0.84,-0.7],[0.92,-0.7],[1.0,-0.7],[1.08,-0.68],[1.16,-0.7],[1.24,-0.72],[1.34,-0.7],
[-0.98,-0.74],[-0.5,-0.72],[-0.3,-0.76],[-0.1,-0.78],[0.06,-0.8],[0.17,-0.78],[0.26,-0.8],[0.36,-0.76],[0.54,-0.78],[0.66,-0.8],[0.76,-0.78],[0.84,-0.84],[0.93,-0.78],[1.02,-0.84],[1.12,-0.78],[1.22,-0.83],[1.34,-0.8],[1.4,-0.74],[-0.64,-0.92],[-0.48,-0.95],[-0.38,-0.96],[-0.28,-0.88],[-0.1,-0.9],[0.02,-0.92],[0.1,-0.86],[0.22,-0.92],[0.36,-0.9],[0.92,-0.92],[1.05,-0.9],[1.16,-0.9],[1.3,-0.92],
[-0.35,-1.0],[-0.18,-1.0],[-0.02,-1.02],[0.13,-1.02],[0.36,-1.1],[0.5,-1.02],[0.68,-1.04],[0.74,-1.08],[0.9,-1.1],[0.98,-1.12],[1.08,-1.04],[1.3,-1.1],[0.05,-1.16],[0.2,-1.2],[0.3,-1.14],[0.58,-1.18],[0.75,-1.2],[1.08,-1.22],[1.22,-1.24],
[-1.36,0.46],[-1.5,0.3],[-1.58,0.1],[-1.4,0.12],[-1.25,0.22],[-1.3,-0.02],[-1.42,-0.18],[-1.55,-0.3],[-1.38,-0.34],[-1.28,-0.52],[-1.48,-0.44],[-1.6,-0.5],[1.55,0.32],[1.62,0.44],[1.74,0.3],[1.85,0.16],[1.86,-0.14],[1.76,-0.28],[1.65,-0.48],[1.78,-0.6],[1.62,-0.66],[1.5,-0.62],[1.52,-0.8],[1.66,-0.88],[1.38,-0.9],
];

const bgOuter = [...poolTop, ...poolUpperMid, ...poolLowerMid];
const bgInner = [...poolDense, ...poolCore];

const BG = "#1e1e1e";
const CREAM = "#fffbea";
const GREEN = "#4c9a33";
const LABEL_FONT = '37px "DejaVu Sans"';

function fitted(ctx: CanvasRenderingContext2D, text: string, x: number, baseline: number, width: number, font: string, color: string, spacing = "0px") {
  ctx.save();
  ctx.font = font;
  (ctx as any).letterSpacing = spacing;
  ctx.fillStyle = color;
  ctx.textAlign = "left";
  ctx.textBaseline = "alphabetic";
  const m = ctx.measureText(text).width;
  ctx.translate(x, baseline);
  ctx.scale(width / m, 1);
  ctx.fillText(text, 0, 0);
  ctx.restore();
}

const headerPlugin = {
  id: "header",
  beforeDraw(chart: any) {
    const ctx: CanvasRenderingContext2D = chart.ctx;
    ctx.save();
    ctx.fillStyle = BG;
    ctx.fillRect(0, 0, chart.width, chart.height);
    ctx.fillStyle = "#212121";
    ctx.fillRect(1705, 47, 1477, 206);
    ctx.fillStyle = GREEN;
    ctx.beginPath();
    ctx.moveTo(1714, 233); ctx.lineTo(1821, 58); ctx.lineTo(1855, 110); ctx.lineTo(1782, 233);
    ctx.closePath(); ctx.fill();
    ctx.beginPath();
    ctx.moveTo(1801, 232); ctx.lineTo(1908, 58); ctx.lineTo(1942, 110); ctx.lineTo(1898, 187);
    ctx.quadraticCurveTo(1880, 225, 1801, 232);
    ctx.closePath(); ctx.fill();
    ctx.beginPath();
    ctx.arc(1963, 202, 36, 0, Math.PI * 2);
    ctx.fill();
    ctx.restore();
    fitted(ctx, "FC_MOSSMAN", 2029, 158, 1141, '900 138px Roboto', GREEN);
    fitted(ctx, "ANALYTICS", 2031, 238, 460, '300 66px Roboto', GREEN, "14px");
    fitted(ctx, chartTitle, 56, 183, 786, '600 90px "Noto Sans"', "#fffbea");
  },
};

const labelPlugin = {
  id: "pointLabels",
  afterDatasetsDraw(chart: any) {
    const ctx: CanvasRenderingContext2D = chart.ctx;
    const paint = (index: number, color: string, names: (i: number) => string) => {
      chart.getDatasetMeta(index).data.forEach((el: any, i: number) => {
        ctx.save();
        ctx.font = LABEL_FONT;
        ctx.textAlign = "left";
        ctx.textBaseline = "middle";
        ctx.shadowColor = "rgba(0,0,0,0.85)";
        ctx.shadowBlur = 8;
        ctx.fillStyle = color;
        ctx.strokeStyle = color;
        ctx.lineWidth = 0.9;
        ctx.strokeText(names(i), el.x + 11, el.y - 49);
        ctx.fillText(names(i), el.x + 11, el.y - 49);
        ctx.restore();
      });
    };
    paint(1, GREEN, () => rodriName);
    paint(0, "#f4f1e2", (i) => playerNames[i]);
  },
};

export default function App() {
  const ref = useRef<HTMLCanvasElement>(null);
  useEffect(() => {
    document.body.style.margin = "0";
    document.body.style.background = BG;
    const chart = new Chart(ref.current as HTMLCanvasElement, {
      type: "scatter",
      data: {
        datasets: [
          { data: playerX.map((x, i) => ({ x, y: playerY[i] })), backgroundColor: CREAM, borderWidth: 0, pointRadius: 17, order: 0 },
          { data: rodriX.map((x, i) => ({ x, y: rodriY[i] })), backgroundColor: GREEN, borderWidth: 0, pointRadius: 17, order: 1 },
          { data: [{ x: medianX, y: -2.5 }, { x: medianX, y: 3.5 }], showLine: true, pointRadius: 0, borderColor: "rgba(150,150,150,0.5)", borderWidth: 2, borderDash: [16, 14], order: 2 },
          { data: [{ x: -3.5, y: medianY }, { x: 3.5, y: medianY }], showLine: true, pointRadius: 0, borderColor: "rgba(150,150,150,0.5)", borderWidth: 2, borderDash: [16, 14], order: 2 },
          { data: bgInner.map(([x, y]) => ({ x, y })), backgroundColor: "rgba(76,154,51,0.33)", borderWidth: 0, pointRadius: 15, order: 3 },
          { data: bgOuter.map(([x, y]) => ({ x, y })), backgroundColor: "rgba(76,154,51,0.26)", borderWidth: 0, pointRadius: 15, order: 4 },
        ],
      },
      plugins: [headerPlugin, labelPlugin],
      options: {
        animation: false,
        responsive: false,
        devicePixelRatio: 1,
        layout: { padding: { left: 0, top: 397, right: 149, bottom: 0 } },
        plugins: { legend: { display: false }, tooltip: { enabled: false }, title: { display: false } },
        scales: {
          x: {
            type: "linear", min: -3.5, max: 3.5,
            afterFit: (s: any) => { s.height = 221; },
            afterBuildTicks: (s: any) => { s.ticks = tickValuesX.map((value) => ({ value })); },
            ticks: { color: "#c9c7b6", font: { family: "DejaVu Sans", size: 40 }, maxRotation: 0, autoSkip: false, padding: 2, callback: (v: any) => Number(v).toFixed(2) },
            grid: { color: "rgba(255,255,255,0.1)", lineWidth: 2, tickLength: 14 },
            border: { display: true, color: "rgba(255,255,255,0.16)", width: 3, dash: [12, 12] },
            title: { display: true, text: xTitle, color: "#f6f3e4", font: { family: "Noto Sans", size: 54, weight: "600" as any }, padding: { top: 0, bottom: 26 } },
          },
          y: {
            type: "linear", min: -2.5, max: 3.5,
            afterFit: (s: any) => { s.width = 438; },
            afterBuildTicks: (s: any) => { s.ticks = tickValuesY.map((value) => ({ value })); },
            ticks: { color: "#c9c7b6", font: { family: "DejaVu Sans", size: 40 }, autoSkip: false, padding: 6, callback: (v: any) => Number(v).toFixed(2) },
            grid: { color: "rgba(255,255,255,0.1)", lineWidth: 2, tickLength: 18 },
            border: { display: true, color: "rgba(255,255,255,0.22)", width: 3, dash: [12, 12] },
            title: { display: true, text: yTitle, color: "#f6f3e4", font: { family: "Noto Sans", size: 54, weight: "600" as any }, padding: { top: 181, bottom: 0 } },
          },
        },
      } as any,
    });
    return () => chart.destroy();
  }, []);
  return <canvas ref={ref} width={3240} height={3240} style={{ display: "block", width: 3240, height: 3240 }} />;
}
